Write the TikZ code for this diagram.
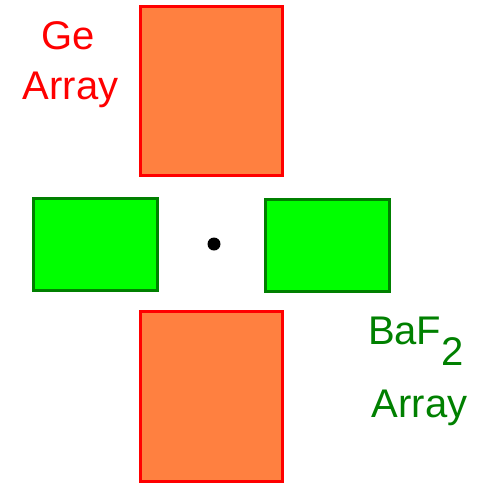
\documentclass[tikz,border=0pt]{standalone}
\usepackage{fontspec}
\setmainfont{Liberation Sans}
\usetikzlibrary{positioning}

\definecolor{georange}{RGB}{255,128,64}
\definecolor{gered}{RGB}{255,0,0}
\definecolor{bafgreen}{RGB}{0,255,0}
\definecolor{bafdark}{RGB}{0,128,0}

\begin{document}
\begin{tikzpicture}[
  x=0.5pt, y=-0.5pt,
  every node/.style={inner sep=0pt, outer sep=0pt},
  gebox/.style={draw=gered, fill=georange, line width=1.5pt,
    minimum width=70.85pt, minimum height=84.6pt},
  bafbox/.style={draw=bafdark, fill=bafgreen, line width=1.5pt,
    minimum width=62pt, minimum height=46pt},
  lbl/.style={font=\fontsize{20}{24}\selectfont, anchor=base}
]
  \useasboundingbox (0,0) rectangle (481,483);

  \node[gebox] (geTop) at (211.65,91) {};
  \node[gebox, minimum height=84.75pt] (geBot) at (211.65,396.25) {};
  \node[bafbox] (bafLeft)  at (95.35,244.8) {};
  \node[bafbox] (bafRight) at (327.65,245.8) {};
  \fill (214,244) circle[radius=3.25pt];

  \node[lbl, text=gered] (geName) at (68.5,49) {Ge};
  \node[lbl, text=gered] (geArr)  at (70.7,99) {Array};
  \node[lbl, text=bafdark, anchor=base west] (bafName) at (368,344) {BaF\raisebox{-10.5pt}{2}};
  \node[lbl, text=bafdark] (bafArr) at (419.5,417) {Array};
\end{tikzpicture}
\end{document}
